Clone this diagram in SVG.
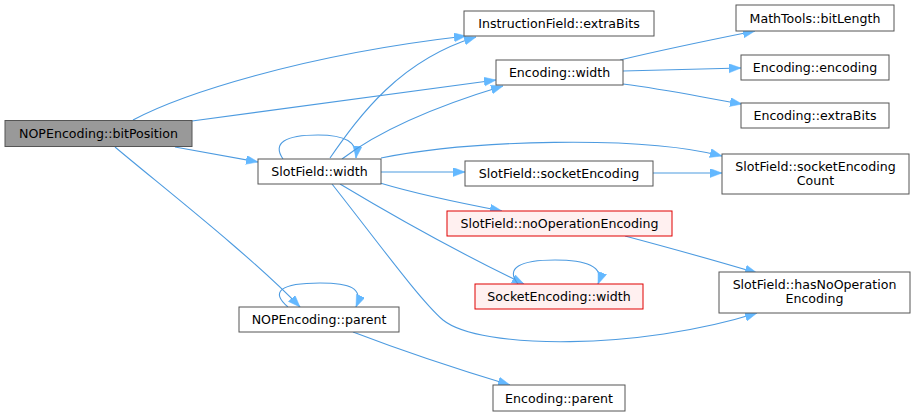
<svg xmlns="http://www.w3.org/2000/svg" width="916" height="416" viewBox="0 0 916 416">
<style>
.n rect{fill:#ffffff;stroke:#555555;stroke-width:1}
.n.main rect{fill:#999999;stroke:#555555}
.n.red rect{fill:#fff0f0;stroke:#e00000}
.n text{font-family:"DejaVu Sans",sans-serif;font-size:12.6px;fill:#000;text-anchor:middle}
.e path{fill:none;stroke:#4d9be0;stroke-width:1.1}
</style>
<defs>
<marker id="a" markerUnits="userSpaceOnUse" markerWidth="13" markerHeight="10" refX="12" refY="4.5" orient="auto">
<path d="M0,0 L12,4.5 L0,9 z" fill="#63b8ff" stroke="#63b8ff" stroke-width="0.5"/>
</marker>
</defs>
<rect width="916" height="416" fill="#ffffff"/>
<g id="edges" class="e">
<path marker-end="url(#a)" d="M133,120 C180,95 300,55 466,36"/>
<path marker-end="url(#a)" d="M192,121 C300,106 400,93 496,80"/>
<path marker-end="url(#a)" d="M175,147 L258,162"/>
<path marker-end="url(#a)" d="M115,147 C160,185 250,255 300,307"/>
<path marker-end="url(#a)" d="M288,307 C270,292 280,283 320,283 C350,283 364,288 356,307"/>
<path marker-end="url(#a)" d="M353,332 C400,350 460,370 510,385"/>
<path marker-end="url(#a)" d="M283,159 C272,143 285,135 318,135 C345,135 358,142 356,158"/>
<path marker-end="url(#a)" d="M330,158 C360,115 400,60 476,37"/>
<path marker-end="url(#a)" d="M342,159 C380,130 440,105 503,86"/>
<path marker-end="url(#a)" d="M381,158 C470,140 640,135 722,156"/>
<path marker-end="url(#a)" d="M381,172 L465,172"/>
<path marker-end="url(#a)" d="M653,173 L722,173"/>
<path marker-end="url(#a)" d="M380,183 C420,195 460,203 502,211"/>
<path marker-end="url(#a)" d="M340,184 C400,220 470,258 524,284"/>
<path marker-end="url(#a)" d="M332,184 C380,245 420,300 443,320 C480,350 640,350 757,313"/>
<path marker-end="url(#a)" d="M625,236 C670,248 720,262 757,273"/>
<path marker-end="url(#a)" d="M518,284 C505,268 520,260 555,260 C585,260 605,266 598,284"/>
<path marker-end="url(#a)" d="M620,60 C670,48 710,40 755,31"/>
<path marker-end="url(#a)" d="M623,71 L741,68"/>
<path marker-end="url(#a)" d="M623,84 C670,90 700,97 742,104"/>
</g>
<g id="n1" class="n main"><rect x="5" y="120.5" width="187" height="26"/><text x="98.5" y="138">NOPEncoding::bitPosition</text></g>
<g id="n2" class="n"><rect x="258" y="159" width="123" height="25"/><text x="319.5" y="176">SlotField::width</text></g>
<g id="n3" class="n"><rect x="464" y="11" width="190" height="25"/><text x="559" y="28">InstructionField::extraBits</text></g>
<g id="n4" class="n"><rect x="496" y="60" width="127" height="25"/><text x="559.5" y="77">Encoding::width</text></g>
<g id="n5" class="n"><rect x="736" y="5" width="158" height="26"/><text x="815" y="22.5">MathTools::bitLength</text></g>
<g id="n6" class="n"><rect x="741" y="55" width="148" height="25"/><text x="815" y="72">Encoding::encoding</text></g>
<g id="n7" class="n"><rect x="741" y="103" width="148" height="25"/><text x="815" y="120">Encoding::extraBits</text></g>
<g id="n8" class="n"><rect x="722" y="154" width="187" height="40"/><text x="815.5" y="170.5">SlotField::socketEncoding</text><text x="815.5" y="184.5">Count</text></g>
<g id="n9" class="n"><rect x="465" y="161" width="188" height="25"/><text x="559" y="178">SlotField::socketEncoding</text></g>
<g id="n10" class="n red"><rect x="447" y="211" width="225" height="25"/><text x="559.5" y="228">SlotField::noOperationEncoding</text></g>
<g id="n11" class="n red"><rect x="475" y="284" width="168" height="25"/><text x="559" y="301">SocketEncoding::width</text></g>
<g id="n12" class="n"><rect x="719" y="272" width="191" height="41"/><text x="814.5" y="288.5">SlotField::hasNoOperation</text><text x="814.5" y="302.5">Encoding</text></g>
<g id="n13" class="n"><rect x="239" y="307" width="160" height="25"/><text x="319" y="324">NOPEncoding::parent</text></g>
<g id="n14" class="n"><rect x="493" y="385" width="132" height="26"/><text x="559" y="402.5">Encoding::parent</text></g>
</svg>
